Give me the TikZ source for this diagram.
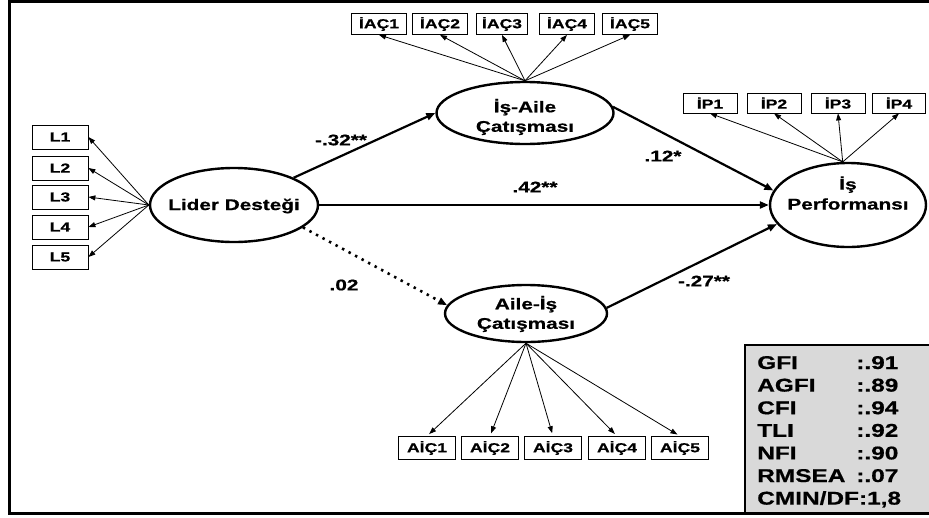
\documentclass[tikz,border=0pt]{standalone}
\usepackage{fontspec}
\setmainfont{Liberation Sans}
\newfontfamily\heavy{Liberation Sans Bold}[FakeBold=0.6]
\usetikzlibrary{shapes.geometric,arrows.meta}
% wide bold lettering used throughout the diagram
\newcommand\widetext[1]{\scalebox{1.35}[1]{#1}}

\begin{document}
\begin{tikzpicture}[x=1pt,y=-1pt,
  latent/.style={draw, ellipse, line width=2.4pt, inner sep=0pt},
  lbl/.style={font=\heavy\fontsize{15.5}{14}\selectfont, align=center, inner sep=0pt,
    xscale=1.34, transform shape},
  coef/.style={font=\heavy\fontsize{15.5}{17}\selectfont, inner sep=0pt,
    xscale=1.34, transform shape},
  ind/.style={draw, rectangle, line width=0.8pt, inner sep=0pt,
    font=\heavy\fontsize{13}{15}\selectfont},
  loading/.style={line width=0.8pt, -{Triangle[length=7pt,width=5pt]}},
  struct/.style={line width=2.2pt, -{Triangle[length=9pt,width=7pt]}},
  dotpath/.style={line width=2.6pt, dash pattern=on 2.4pt off 5pt,
    -{Triangle[length=9pt,width=7pt]}},
  fitline/.style={font=\heavy\fontsize{18.5}{20}\selectfont, inner sep=0pt,
    anchor=base west, xscale=1.32, transform shape},
]
\useasboundingbox (0,0) rectangle (929,517);

% fit indices panel and outer frame
\begin{scope}
  \clip (0,0) rectangle (929,517);
  \draw[line width=2pt, fill=black!15] (745,345) rectangle (940,513.5);
  \draw[line width=3pt] (9,1.5) rectangle (940,513.5);
\end{scope}

% latent variables
\node[latent, minimum width=168pt, minimum height=74pt] (lider) at (234,205) {};
\node[latent, minimum width=177pt, minimum height=62pt] (isaile) at (525,113) {};
\node[latent, minimum width=162pt, minimum height=57pt] (aileis) at (526,313.5) {};
\node[latent, minimum width=156pt, minimum height=84pt] (perf) at (848,205) {};

\node[lbl] (liderT) at (234,206) {Lider Desteği};
\node[lbl] (isaileT) at (525,117) {İş-Aile\\[4.5pt]Çatışması};
\node[lbl] (aileisT) at (526,314) {Aile-İş\\[4.5pt]Çatışması};
\node[lbl] (perfT) at (848,193) {İş\\[4.5pt]Performansı};

% indicators of Lider Desteği
\node[ind, minimum width=56pt, minimum height=24pt] (L1) at (60,137) {\widetext{L1}};
\node[ind, minimum width=56pt, minimum height=24pt] (L2) at (60,168) {\widetext{L2}};
\node[ind, minimum width=56pt, minimum height=24pt] (L3) at (60,197) {\widetext{L3}};
\node[ind, minimum width=56pt, minimum height=24pt] (L4) at (60,227) {\widetext{L4}};
\node[ind, minimum width=56pt, minimum height=24pt] (L5) at (60,257) {\widetext{L5}};

% indicators of İş-Aile Çatışması
\node[ind, minimum width=55pt, minimum height=21pt] (iac1) at (379,24) {\widetext{İAÇ1}};
\node[ind, minimum width=55pt, minimum height=21pt] (iac2) at (440,24) {\widetext{İAÇ2}};
\node[ind, minimum width=51pt, minimum height=21pt] (iac3) at (502,24) {\widetext{İAÇ3}};
\node[ind, minimum width=55pt, minimum height=21pt] (iac4) at (567,24) {\widetext{İAÇ4}};
\node[ind, minimum width=55pt, minimum height=21pt] (iac5) at (630,24) {\widetext{İAÇ5}};

% indicators of İş Performansı
\node[ind, minimum width=54pt, minimum height=20pt] (ip1) at (710,103) {\widetext{İP1}};
\node[ind, minimum width=54pt, minimum height=20pt] (ip2) at (774,103) {\widetext{İP2}};
\node[ind, minimum width=54pt, minimum height=20pt] (ip3) at (838,103) {\widetext{İP3}};
\node[ind, minimum width=53pt, minimum height=20pt] (ip4) at (899,103) {\widetext{İP4}};

% indicators of Aile-İş Çatışması
\node[ind, minimum width=57pt, minimum height=23pt] (aic1) at (427,448) {\widetext{AİÇ1}};
\node[ind, minimum width=57pt, minimum height=23pt] (aic2) at (490,448) {\widetext{AİÇ2}};
\node[ind, minimum width=57pt, minimum height=23pt] (aic3) at (553,448) {\widetext{AİÇ3}};
\node[ind, minimum width=57pt, minimum height=23pt] (aic4) at (617,448) {\widetext{AİÇ4}};
\node[ind, minimum width=57pt, minimum height=23pt] (aic5) at (680,448) {\widetext{AİÇ5}};

% factor loadings
\foreach \i in {1,...,5} \draw[loading] (lider.west) -- (L\i.east);
\foreach \i in {1,...,5} \draw[loading] (isaile.north) -- (iac\i.south);
\foreach \i in {1,...,4} \draw[loading] (perf.97) -- (ip\i.south);
\foreach \i in {1,...,5} \draw[loading, shorten >=3pt] (aileis.south) -- (aic\i.north);

% structural paths
\draw[struct] (lider) -- (isaile.west);
\draw[struct] (isaile.4) -- (perf.169);
\draw[struct] (lider) -- (perf);
\draw[dotpath] (lider.-18) -- (aileis.174);
\draw[struct] (aileis.4) -- (perf.195);

% path coefficients
\node[coef] (c1) at (341,140) {-.32**};
\node[coef] (c2) at (663,156) {.12*};
\node[coef] (c3) at (535,187) {.42**};
\node[coef] (c4) at (344,285) {.02};
\node[coef] (c5) at (704,281) {-.27**};

% fit indices
\node[fitline] (gfi)    at (757,369)   {GFI};
\node[fitline] (gfiv)   at (856,369)   {:.91};
\node[fitline] (agfi)   at (757,391.6) {AGFI};
\node[fitline] (agfiv)  at (856,391.6) {:.89};
\node[fitline] (cfi)    at (757,414.2) {CFI};
\node[fitline] (cfiv)   at (856,414.2) {:.94};
\node[fitline] (tli)    at (757,436.8) {TLI};
\node[fitline] (tliv)   at (856,436.8) {:.92};
\node[fitline] (nfi)    at (757,459.4) {NFI};
\node[fitline] (nfiv)   at (856,459.4) {:.90};
\node[fitline] (rmsea)  at (757,482)   {RMSEA};
\node[fitline] (rmseav) at (856,482)   {:.07};
\node[fitline] (cmin)   at (757,504.6) {CMIN/DF:1,8};
\end{tikzpicture}
\end{document}
